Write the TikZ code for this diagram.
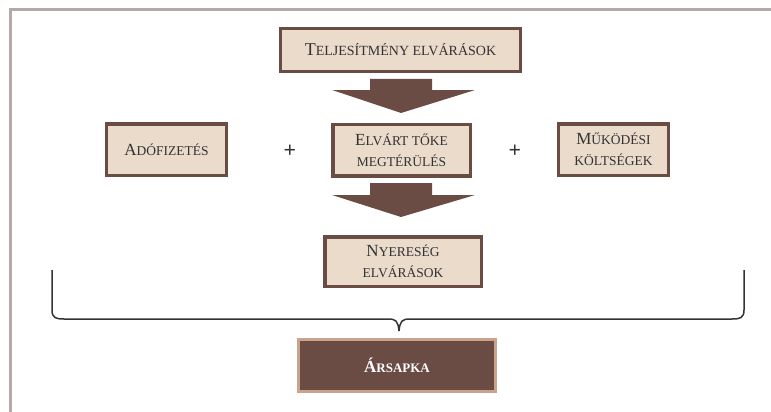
\documentclass[tikz,border=0pt]{standalone}
\usepackage{fontspec}
\setmainfont{Liberation Serif}
\definecolor{boxfill}{HTML}{EADBCB}
\definecolor{boxline}{HTML}{6B4C44}
\definecolor{capline}{HTML}{C9A38B}
\definecolor{framegray}{HTML}{B5A9A7}
\definecolor{txt}{HTML}{333333}
% larger capital inside the faked small-caps labels
\newcommand\Cap[1]{{\fontsize{17}{21}\selectfont #1}}
\newcommand\CapT[1]{{\fontsize{18}{21}\selectfont #1}}
\begin{document}
\begin{tikzpicture}[x=1pt,y=-1pt,
  stepbox/.style={draw=boxline,line width=3.5pt,fill=boxfill,rectangle,
    align=center,text=txt,inner sep=0pt,
    font=\fontsize{13.5}{21}\selectfont},
  capbox/.style={draw=capline,line width=3pt,fill=boxline,rectangle,
    align=center,text=white,inner sep=0pt,
    font=\fontsize{13}{21}\selectfont\bfseries},
  bigarrow/.style={fill=boxline,draw=none},
  plus/.style={text=txt,font=\fontsize{22}{22}\selectfont\bfseries},
  brace/.style={draw=txt,line width=1.5pt,line join=round}]
\useasboundingbox (0,0) rectangle (771,412);
% outer frame, running off the right and bottom edges
\draw[framegray,line width=3pt] (10,420) -- (10,10) -- (780,10);

% boxes
\node[stepbox,minimum width=240pt,minimum height=43pt,
  font=\fontsize{14}{21}\selectfont] (perf) at (400.5,50)
  {\CapT{T}ELJESÍTMÉNY ELVÁRÁSOK};
\node[stepbox,minimum width=120pt,minimum height=51.5pt] (tax) at (166.5,149.5)
  {\Cap{A}DÓFIZETÉS};
\node[stepbox,minimum width=137.5pt,minimum height=51.5pt] (roi) at (401.5,150)
  {\Cap{E}LVÁRT TŐKE\\MEGTÉRÜLÉS};
\node[stepbox,minimum width=110pt,minimum height=51.5pt] (cost) at (613.5,149.5)
  {\Cap{M}ŰKÖDÉSI\\KÖLTSÉGEK};
\node[stepbox,minimum width=156.5pt,minimum height=49.5pt] (profit) at (403,261.5)
  {\Cap{N}YERESÉG\\ELVÁRÁSOK};
\node[capbox,minimum width=197pt,minimum height=52pt] (cap) at (397,365.5)
  {\Cap{\bfseries Á}RSAPKA};

% plus signs between the middle row
\node[plus] (p1) at (290,151) {+};
\node[plus] (p2) at (515,151) {+};

% block arrows
\fill[bigarrow] (370,79) -- (432,79) -- (432,90) -- (475,90) -- (401,113)
  -- (332,90) -- (370,90) -- cycle;
\fill[bigarrow] (370,183) -- (432,183) -- (432,195) -- (475,195) -- (401,217)
  -- (332,195) -- (370,195) -- cycle;

% curly brace gathering the row above
\coordinate (bl) at (52,270);
\coordinate (br) at (744,270);
\coordinate (tip) at (399,331);
\draw[brace] (bl) -- (52,310) .. controls (52,318) and (56,319) .. (64,319)
  -- (388,319) .. controls (396,319) and (398,321) .. (tip);
\draw[brace] (br) -- (744,310) .. controls (744,318) and (740,319) .. (732,319)
  -- (410,319) .. controls (402,319) and (400,321) .. (tip);
\end{tikzpicture}
\end{document}
